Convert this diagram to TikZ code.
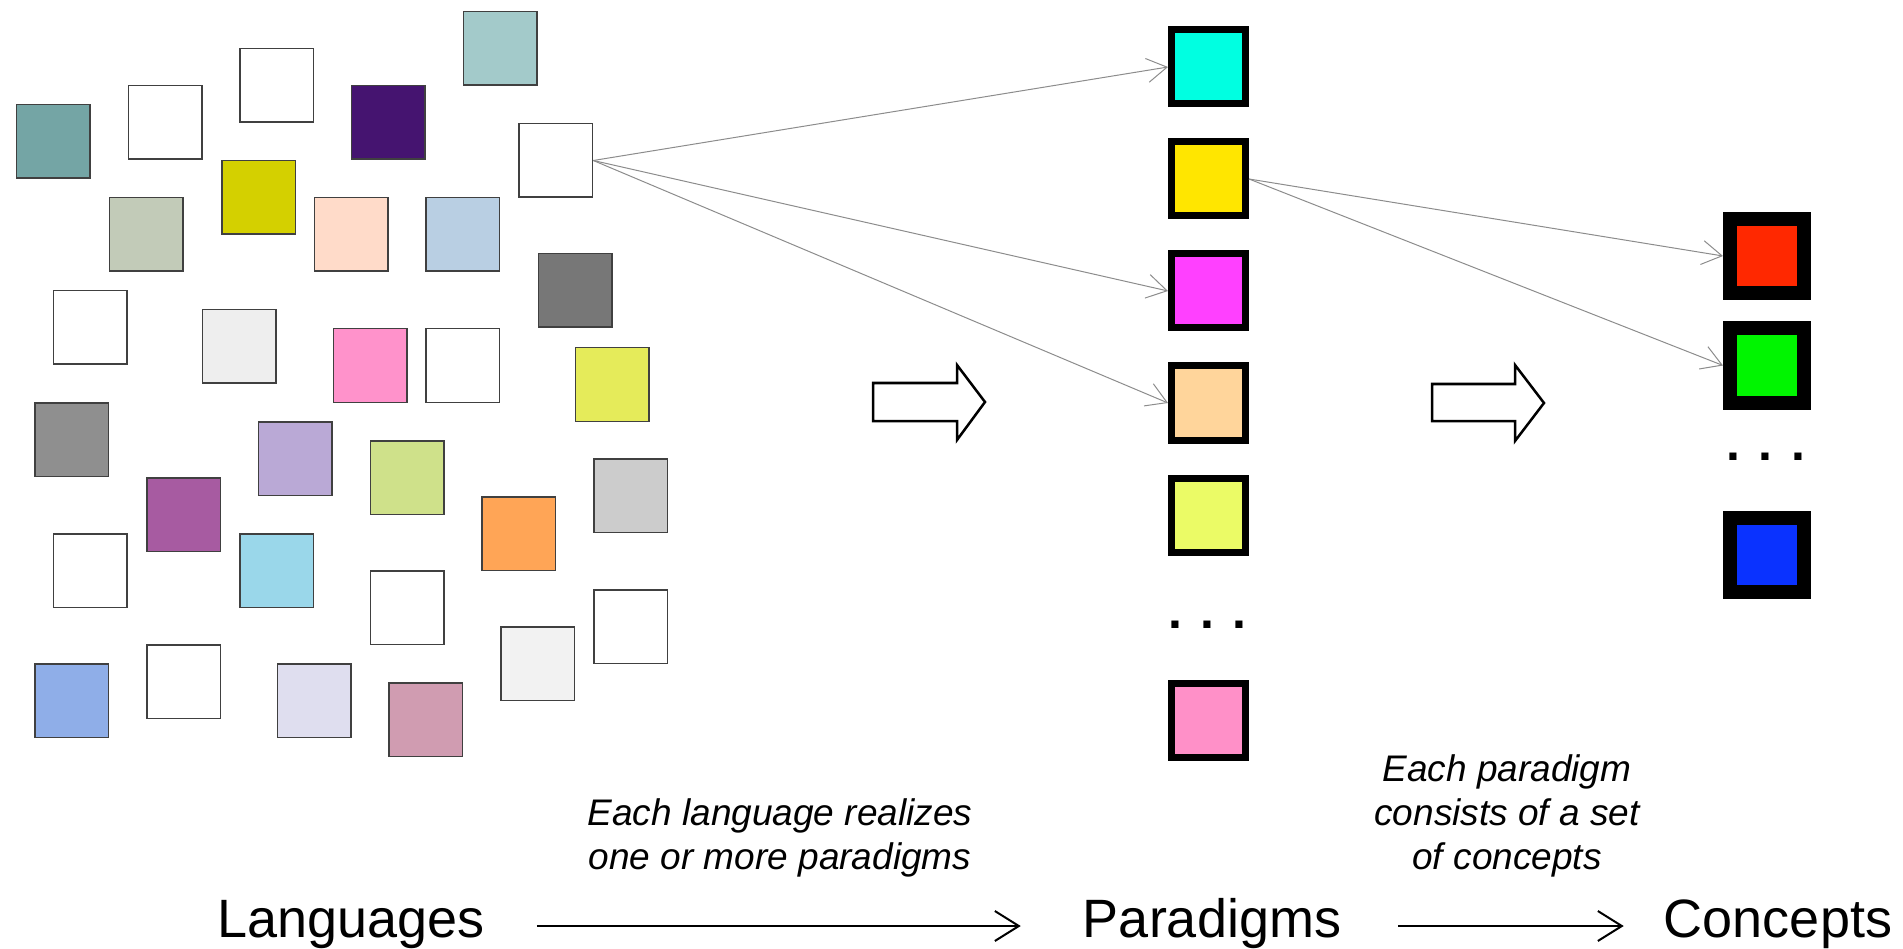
\documentclass[tikz,border=0pt]{standalone}
\usepackage{fontspec}
\setmainfont{Liberation Sans}
\usetikzlibrary{arrows.meta}

% colours of the language squares
\definecolor{slate}{HTML}{74A5A5}
\definecolor{mist}{HTML}{A3CACA}
\definecolor{indigoish}{HTML}{451470}
\definecolor{mustard}{HTML}{D4D000}
\definecolor{sage}{HTML}{C2CBB8}
\definecolor{blush}{HTML}{FFDBC9}
\definecolor{powder}{HTML}{B9CFE3}
\definecolor{graphite}{HTML}{777777}
\definecolor{smoke}{HTML}{EEEEEE}
\definecolor{rose}{HTML}{FF92CB}
\definecolor{lemon}{HTML}{E5EB5A}
\definecolor{ash}{HTML}{8F8F8F}
\definecolor{lilac}{HTML}{BAA9D6}
\definecolor{pistachio}{HTML}{CFE18A}
\definecolor{silver}{HTML}{CCCCCC}
\definecolor{plum}{HTML}{A75BA1}
\definecolor{tangerine}{HTML}{FFA556}
\definecolor{aqua}{HTML}{9AD7EA}
\definecolor{snow}{HTML}{F2F2F2}
\definecolor{cornflower}{HTML}{8FAEE8}
\definecolor{haze}{HTML}{DFDEEF}
\definecolor{mauve}{HTML}{D09CB1}
% paradigms and concepts
\definecolor{pCyan}{HTML}{00FFE1}
\definecolor{pGold}{HTML}{FFE600}
\definecolor{pFuchsia}{HTML}{FF40FF}
\definecolor{pApricot}{HTML}{FFD59B}
\definecolor{pChartreuse}{HTML}{EBFB66}
\definecolor{pPink}{HTML}{FF90C8}
\definecolor{cRed}{HTML}{FF2800}
\definecolor{cGreen}{HTML}{00F500}
\definecolor{cBlue}{HTML}{0A32FF}

\begin{document}
\begin{tikzpicture}[x=1pt, y=-1pt,
  lang/.style={draw=black!75, line width=1.5pt, minimum size=73.5pt, inner sep=0pt, anchor=north west},
  para/.style={draw=black, line width=7pt, minimum size=74pt, inner sep=0pt},
  conc/.style={draw=black, line width=14pt, minimum size=74pt, inner sep=0pt},
  link/.style={black!45, line width=1pt, -{Straight Barb[length=20pt,width=24pt]}},
  flow/.style={black, line width=2pt, -{Straight Barb[length=24pt,width=30pt]}},
  block/.style={black, line width=2.5pt, fill=white},
  title/.style={inner sep=0pt, anchor=base, font=\fontsize{54}{60}\selectfont},
  note/.style={inner sep=0pt, anchor=base, align=center, font=\fontsize{37}{44}\selectfont\itshape},
  dotrow/.style={inner sep=0pt, anchor=base, font=\fontsize{50}{50}\selectfont\bfseries}]
\useasboundingbox (0,0) rectangle (1903,949);

% languages
\foreach \x/\y/\c [count=\i] in {15.6/104/slate, 127.7/85/white, 239.3/48/white, 350.9/85/indigoish,
  462.5/11/mist, 518.3/123/white, 221/160/mustard, 108.5/197/sage, 313.8/197/blush, 425.4/197/powder,
  537.5/253/graphite, 52.7/290/white, 201.8/309/smoke, 332.6/328/rose, 425.4/328/white, 574.6/347/lemon,
  34.4/402/ash, 257.6/421/lilac, 369.6/440/pistachio, 593.3/458/silver, 146/477/plum, 481.3/496/tangerine,
  52.7/533/white, 239.3/533/aqua, 369.6/570/white, 593.3/589/white, 500/626/snow, 34.4/663/cornflower,
  146/644/white, 276.8/663/haze, 388.4/682/mauve}
  \node[lang, fill=\c] (l\i) at (\x,\y) {};

% paradigms
\node[para, fill=pCyan] (p1) at (1208.5,67) {};
\node[para, fill=pGold] (p2) at (1208.5,179) {};
\node[para, fill=pFuchsia] (p3) at (1208.5,291) {};
\node[para, fill=pApricot] (p4) at (1208.5,403) {};
\node[para, fill=pChartreuse] (p5) at (1208.5,515) {};
\node[dotrow] (pdots) at (1207.5,628.5) {. . .};
\node[para, fill=pPink] (p6) at (1208.5,720) {};

% concepts
\node[conc, fill=cRed] (c1) at (1767,256) {};
\node[conc, fill=cGreen] (c2) at (1767,365.5) {};
\node[dotrow] (cdots) at (1765.6,460.5) {. . .};
\node[conc, fill=cBlue] (c3) at (1767,555) {};

\draw[link] (l6.east) -- (p1.west);
\draw[link] (l6.east) -- (p3.west);
\draw[link] (l6.east) -- (p4.west);
\draw[link] (p2.east) -- (c1.west);
\draw[link] (p2.east) -- (c2.west);

% big arrows
\draw[block] (873,383) -- (957,383) -- (957,365) -- (985,402) -- (957,440) -- (957,421) -- (873,421) -- cycle;
\draw[block] (1432,384) -- (1515,384) -- (1515,365) -- (1544,403) -- (1515,441) -- (1515,421) -- (1432,421) -- cycle;

% captions (base = last line)
\node[title] (langs) at (351,937) {Languages};
\node[title] (paras) at (1212,937) {Paradigms};
\node[title] (concs) at (1778,937) {Concepts};
\node[note] (realize) at (780,869) {Each language realizes\\one or more paradigms};
\node[note] (consist) at (1507,869) {Each paradigm\\consists of a set\\of concepts};

\draw[flow] ([shift={(52,-11)}]langs.base east) -- ([shift={(-62,-11)}]paras.base west);
\draw[flow] ([shift={(57,-11)}]paras.base east) -- ([shift={(-40,-11)}]concs.base west);
\end{tikzpicture}
\end{document}
